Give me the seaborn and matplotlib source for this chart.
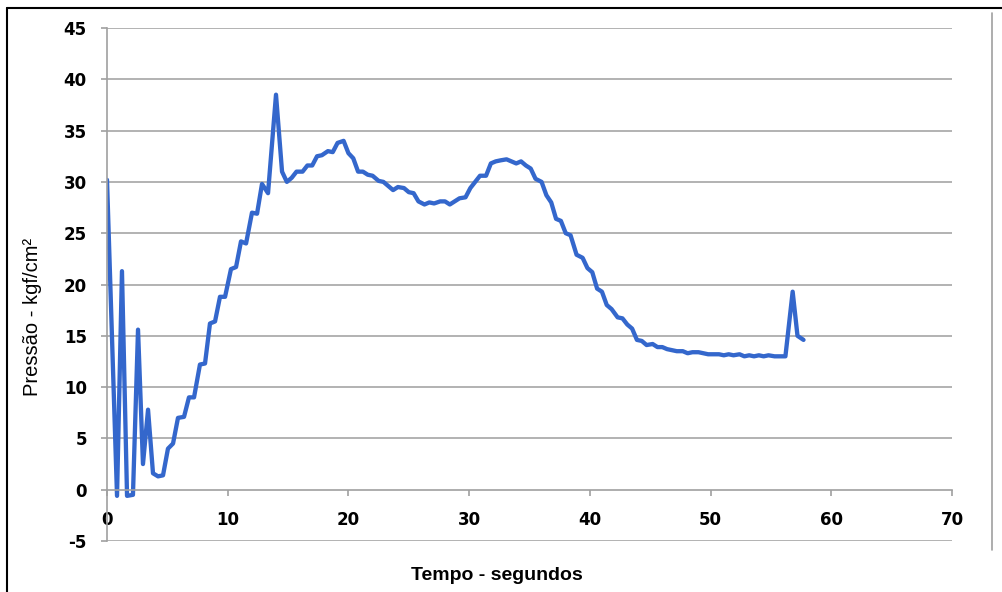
import matplotlib
matplotlib.use("Agg")
import matplotlib.pyplot as plt
import seaborn as sns
import pandas as pd
from matplotlib.lines import Line2D

tempo = [0.0, 0.83, 1.24, 1.66, 2.15, 2.57, 2.98, 3.40, 3.81, 4.23, 4.64, 5.05, 5.47, 5.88, 6.38,
         6.79, 7.21, 7.70, 8.12, 8.53, 8.95, 9.36, 9.78, 10.27, 10.69, 11.10, 11.52, 12.01, 12.43,
         12.84, 13.34, 14.0, 14.5, 14.9, 15.3, 15.7, 16.2, 16.6, 17.0, 17.4, 17.8, 18.3, 18.7, 19.1,
         19.6, 20.0, 20.4, 20.8, 21.2, 21.6, 22.0, 22.5, 22.9, 23.3, 23.7, 24.1, 24.6, 25.0, 25.4,
         25.8, 26.3, 26.7, 27.1, 27.6, 28.0, 28.4, 28.8, 29.2, 29.7, 30.1, 30.5, 30.9, 31.4, 31.8,
         32.2, 32.6, 33.1, 33.5, 33.9, 34.3, 34.7, 35.1, 35.5, 36.0, 36.4, 36.8, 37.2, 37.6, 38.0,
         38.4, 38.9, 39.4, 39.8, 40.2, 40.6, 41.0, 41.4, 41.8, 42.3, 42.7, 43.1, 43.5, 43.9, 44.3,
         44.7, 45.2, 45.6, 46.0, 46.4, 46.8, 47.2, 47.7, 48.1, 48.5, 49.0, 49.4, 49.8, 50.3, 50.7,
         51.1, 51.5, 51.9, 52.4, 52.8, 53.2, 53.6, 54.0, 54.4, 54.8, 55.3, 55.7, 56.2, 56.8, 57.2,
         57.7]
pressao = [30.2, -0.6, 21.3, -0.6, -0.5, 15.6, 2.5, 7.8, 1.6, 1.3, 1.4, 4.0, 4.5, 7.0, 7.1,
           9.0, 9.0, 12.2, 12.3, 16.2, 16.4, 18.8, 18.8, 21.5, 21.7, 24.2, 24.0, 27.0, 26.9,
           29.8, 28.9, 38.5, 31.0, 30.0, 30.4, 31.0, 31.0, 31.6, 31.6, 32.5, 32.6, 33.0, 32.9, 33.8,
           34.0, 32.8, 32.3, 31.0, 31.0, 30.7, 30.6, 30.1, 30.0, 29.6, 29.2, 29.5, 29.4, 29.0, 28.9,
           28.1, 27.8, 28.0, 27.9, 28.1, 28.1, 27.8, 28.1, 28.4, 28.5, 29.4, 30.0, 30.6, 30.6, 31.8,
           32.0, 32.1, 32.2, 32.0, 31.8, 32.0, 31.6, 31.3, 30.3, 30.0, 28.7, 28.0, 26.4, 26.2, 25.0,
           24.8, 22.9, 22.6, 21.6, 21.2, 19.6, 19.3, 18.0, 17.6, 16.8, 16.7, 16.1, 15.7, 14.6, 14.5,
           14.1, 14.2, 13.9, 13.9, 13.7, 13.6, 13.5, 13.5, 13.3, 13.4, 13.4, 13.3, 13.2, 13.2, 13.2,
           13.1, 13.2, 13.1, 13.2, 13.0, 13.1, 13.0, 13.1, 13.0, 13.1, 13.0, 13.0, 13.0, 19.3, 15.0,
           14.6]

x_ticks = [0, 10, 20, 30, 40, 50, 60, 70]
y_ticks = [-5, 0, 5, 10, 15, 20, 25, 30, 35, 40, 45]

df = pd.DataFrame({"Tempo": tempo, "Pressao": pressao})

sns.set_style("white")
plt.rcParams['font.family'] = ['DejaVu Sans']

fig = plt.figure(figsize=(10.02, 5.92), dpi=100)
ax = fig.add_axes([107/1002, 1-541/592, (952-107)/1002, (541-28)/592])

sns.lineplot(data=df, x="Tempo", y="Pressao", ax=ax, color="#3467CC", linewidth=3.1,
             sort=False, estimator=None)

ax.set_xlim(0, 70)
ax.set_ylim(-5, 45)
ax.set_xticks(x_ticks)
ax.set_yticks(y_ticks)
ax.set_xticklabels([str(v) for v in x_ticks])
ax.set_yticklabels([str(v) for v in y_ticks])

for yv in y_ticks:
    if yv != 0:
        ax.axhline(yv, color="#A6A6A6", linewidth=1.2, zorder=0)

ax.spines['top'].set_visible(False)
ax.spines['right'].set_visible(False)
ax.spines['left'].set_color("#A0A0A0")
ax.spines['left'].set_linewidth(1.2)
ax.spines['bottom'].set_position(('data', 0))
ax.spines['bottom'].set_color("#A0A0A0")
ax.spines['bottom'].set_linewidth(1.2)

ax.tick_params(axis='y', which='both', left=True, length=4.5, width=1.2, color="#A0A0A0",
               pad=10, labelsize=12, labelcolor="black")
ax.tick_params(axis='x', which='both', bottom=True, length=4, width=1.2, color="#A0A0A0",
               pad=11, labelsize=12, labelcolor="black")
for lab in ax.get_xticklabels() + ax.get_yticklabels():
    lab.set_fontweight('heavy')

ax.set_xlabel("")
ax.set_ylabel("")

fig.text(33/1002, 1-317/592, "Pressão - kgf/cm²", rotation=90, ha='center', va='center',
         fontsize=14.5, family=['Liberation Sans', 'DejaVu Sans'], color="black")
fig.text(497/1002, 1-575/592, "Tempo - segundos", ha='center', va='center',
         fontsize=14, fontweight='bold', family=['Liberation Sans', 'DejaVu Sans'], color="black")

# outer frame (left and top edges) and right grey separator
fig.add_artist(Line2D([7/1002, 7/1002], [0, 1-8/592], transform=fig.transFigure,
                      color="black", linewidth=1.5))
fig.add_artist(Line2D([7/1002, 1], [1-8/592, 1-8/592], transform=fig.transFigure,
                      color="black", linewidth=1.5))
fig.add_artist(Line2D([992/1002, 992/1002], [1-550/592, 1-13/592], transform=fig.transFigure,
                      color="#A0A0A0", linewidth=1.2))

fig.savefig("out.png", dpi=100)
